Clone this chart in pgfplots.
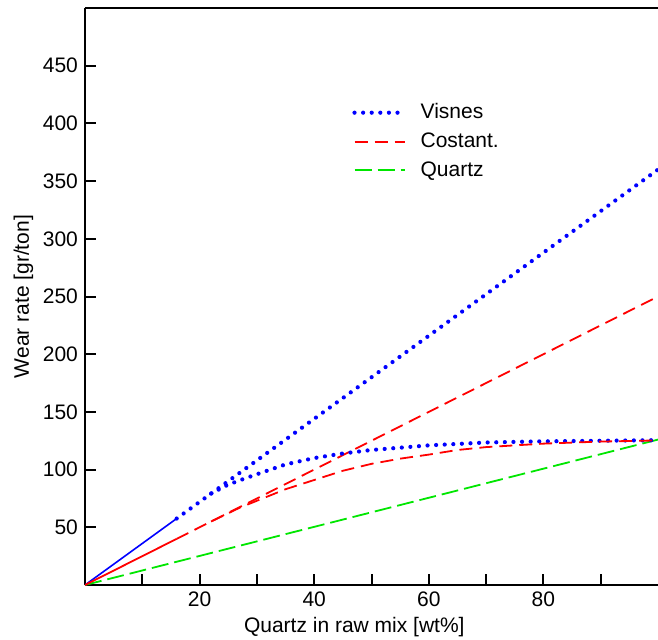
\documentclass[border=0pt]{standalone}
\usepackage{fontspec}
\setmainfont{Liberation Sans}
\usepackage{pgfplots}
\pgfplotsset{compat=1.18}
\usepackage{pgfplotstable}

% blue: Visnes
\pgfplotstableread{
x y
0 0
16 57.6
}\visnesSolid
\pgfplotstableread{
x y
16 57.6
100 360
}\visnesLine
\pgfplotstableread{
x y
22 79.2
25 87
28 92.5
30 96
35 104.5
40 110
45 114
50 117
55 119
60 121
70 123.5
80 124.5
90 125
100 125.5
}\visnesCurve
% red: Costant.
\pgfplotstableread{
x y
0 0
16 40
}\costSolid
\pgfplotstableread{
x y
16 40
100 250
}\costLine
\pgfplotstableread{
x y
22 55
27 67
30 73
35 83
40 91
45 99
50 105
55 109.5
60 113
65 117
70 119.5
80 122.5
90 124.3
100 125.3
}\costCurve
% green: Quartz
\pgfplotstableread{
x y
0 0
100 126
}\quartz

\definecolor{cblue}{RGB}{0,0,255}
\definecolor{cred}{RGB}{255,0,0}
\definecolor{cgreen}{RGB}{0,230,0}

\begin{document}
\begin{tikzpicture}
\begin{axis}[
    scale only axis,
    width=286.5pt, height=288.5pt,
    xmin=0, xmax=100, ymin=0, ymax=500,
    axis x line=box, axis y line=left,
    axis line style={line width=1pt, -},
    xtick={10,20,...,90},
    xticklabels={,20,,40,,60,,80,},
    ytick={50,100,...,450},
    tick align=inside,
    xtick pos=bottom,
    major tick length=5.5pt,
    tick style={line width=1pt, black},
    font=\fontsize{10.5}{12}\selectfont,
    /pgf/number format/assume math mode=true,
    xlabel={Quartz in raw mix [wt\%]},
    ylabel={Wear rate [gr/ton]},
    xlabel style={at={(axis description cs:0.47,0)}, anchor=center, yshift=-21pt},
    ylabel style={yshift=-2pt},
    legend style={draw=none, fill=none, at={(0.466,0.842)}, anchor=north west,
        font=\fontsize{10.5}{12}\selectfont, row sep=1.5pt, inner sep=0pt, cells={anchor=west},
        /tikz/every odd column/.append style={column sep=5pt}},
    legend image code/.code={\draw[#1] (0pt,0pt) -- (25pt,0pt);},
    legend cell align=left,
]
\addplot[cblue, line width=2.1pt, line cap=round, dash pattern=on 0pt off 4.3pt] table {\visnesLine};
\addlegendentry{Visnes}
\addplot[cred, line width=0.9pt, dash pattern=on 6.5pt off 3.5pt] table {\costLine};
\addlegendentry{Costant.}
\addplot[cgreen, line width=0.9pt, dash pattern=on 8.5pt off 3pt] table {\quartz};
\addlegendentry{Quartz}
\addplot[cblue, line width=2.1pt, line cap=round, dash pattern=on 0pt off 4.3pt, forget plot] table {\visnesCurve};
\addplot[cred, line width=0.9pt, dash pattern=on 6.5pt off 3.5pt, forget plot] table {\costCurve};
\addplot[cblue, line width=0.8pt, forget plot] table {\visnesSolid};
\addplot[cred, line width=0.9pt, forget plot] table {\costSolid};
\end{axis}
\pgfresetboundingbox
\path (current axis.south west) ++(-42.5pt,-27pt) rectangle ++(329pt,319.5pt);
\end{tikzpicture}
\end{document}
